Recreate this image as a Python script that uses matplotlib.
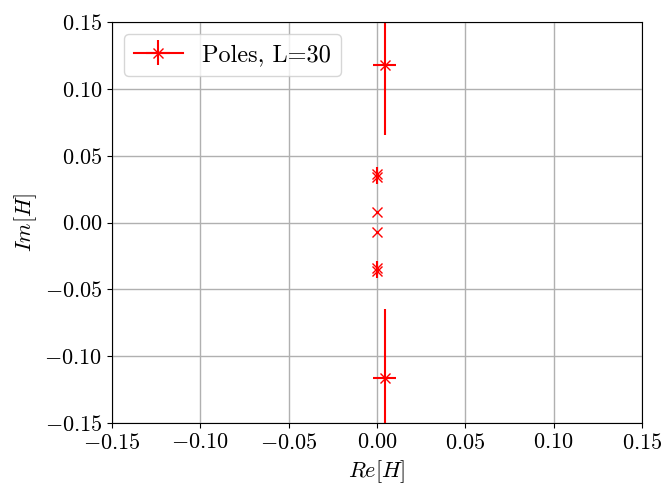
import matplotlib
matplotlib.use("Agg")
import matplotlib.pyplot as plt
import numpy as np

plt.rcParams['font.family'] = 'serif'
plt.rcParams['font.serif'] = ['cmr10']
plt.rcParams['mathtext.fontset'] = 'cm'
plt.rcParams['axes.formatter.use_mathtext'] = True

re_vals = [0.0045, 0.0, 0.0, 0.0, 0.0, 0.0, 0.0, 0.0045]
im_vals = [0.1175, 0.0365, 0.034, 0.0078, -0.0072, -0.034, -0.0365, -0.1165]
re_err = [0.0065, 0.0, 0.0, 0.0, 0.0, 0.0, 0.0, 0.0065]
im_err = [0.052, 0.005, 0.005, 0.0, 0.0, 0.005, 0.005, 0.052]

fig = plt.figure(figsize=(6.64, 4.87), dpi=100)
ax = fig.add_axes([0.1687, 0.1314, 0.7982, 0.8234])
for i, (x, y, xe, ye) in enumerate(zip(re_vals, im_vals, re_err, im_err)):
    ax.errorbar([x], [y], xerr=[xe], yerr=[ye], fmt='x-', color='red',
                ecolor='red', markersize=7, elinewidth=1.5,
                label='Poles, L=30' if i == 0 else None)
ax.set_xlim(-0.15, 0.15)
ax.set_ylim(-0.15, 0.15)
ax.set_xticks(np.arange(-0.15, 0.151, 0.05))
ax.set_yticks(np.arange(-0.15, 0.151, 0.05))
ax.tick_params(labelsize=16)
ax.grid(True, color='#b0b0b0', linewidth=1)
ax.set_axisbelow(True)
ax.set_xlabel(r'$Re[H]$', fontsize=16)
ax.set_ylabel(r'$Im[H]$', fontsize=16)
ax.legend(loc='upper left', fontsize=17.5)
fig.savefig('out.png', dpi=100)
